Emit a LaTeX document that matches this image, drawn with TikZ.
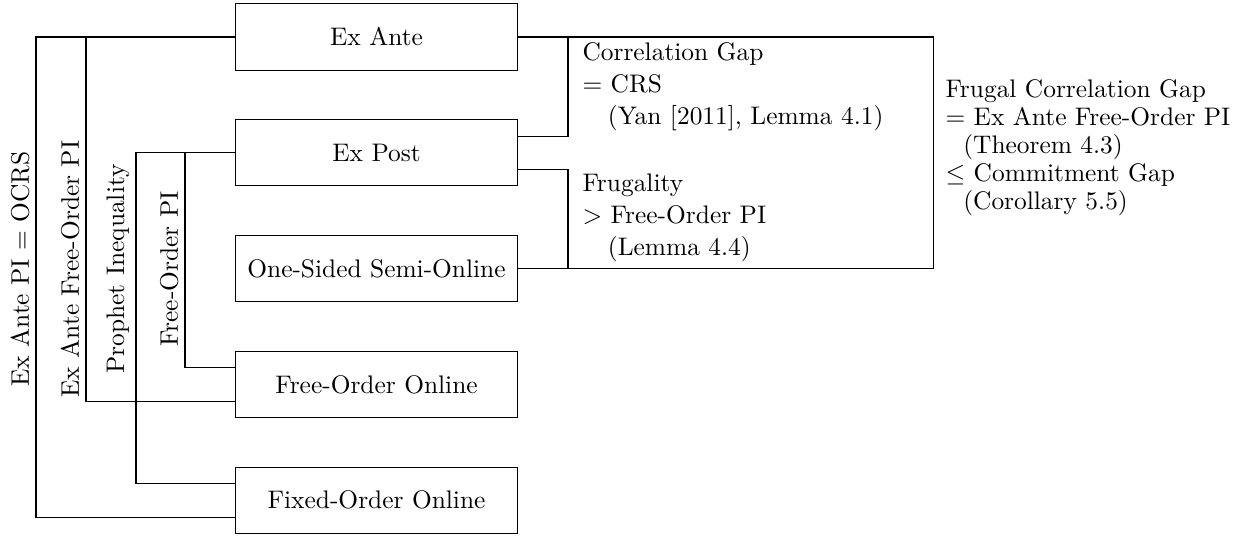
\documentclass[tikz,border=0pt]{standalone}
\usepackage{amsmath}
\usepackage{tikz}
\usetikzlibrary{positioning}
\begin{document}
\begin{tikzpicture}[x=0.3937pt, y=0.3937pt, main/.style = {draw, minimum width=111.4pt, minimum height=26pt}, side/.style = {rotate=90, anchor=south, inner sep=2.4pt}, note/.style = {align=left, anchor=north west, inner sep=0pt}, node distance=19.2pt]
\useasboundingbox (0,0) rectangle (1247,-537);
\node[main] (1) at (376.5,-37) {Ex Ante};
\node[main] (2) [below=of 1] {Ex Post};
\node[main] (3) [below=of 2] {One-Sided Semi-Online};
\node[main] (4) [below=of 3] {Free-Order Online};
\node[main] (5) [below=of 4] {Fixed-Order Online};
\coordinate (a) at (36,-269);
\coordinate (b) at (86,-269);
\coordinate (c) at (136,-269);
\coordinate (d) at (185,-269);
\coordinate (e) at (568,-269);
\coordinate (f) at (933,-269);
\draw (1.west) -| (a) |- ([yshift=-6.6pt]5.west);
\draw (1.west) -| (b) |- ([yshift=-6.6pt]4.west);
\draw (2.west) -| (c) |- ([yshift=6.6pt]5.west);
\draw (2.west) -| (d) |- ([yshift=6.6pt]4.west);
\draw (1.east) -| (f |- 3.east) -- (3.east);
\draw ([yshift=6.6pt]2.east) -| (e |- 1.east);
\draw ([yshift=-6.6pt]2.east) -| (e |- 3.east);
\node[side] (ocrs) at (a) {Ex Ante PI $=$ OCRS};
\node[side] (eafo) at (b) {Ex Ante Free-Order PI};
\node[side] (pi) at (c) {Prophet Inequality};
\node[side] (fopi) at (d) {Free-Order PI};
\node[note] (cg) at (582,-42.4) {Correlation Gap\\[0.6pt] $=$ CRS\\[0.6pt] \hspace*{10pt}(Yan [2011], Lemma 4.1)};
\node[note] (fr) at (582,-173.4) {Frugality\\[0.6pt] $>$ Free-Order PI\\[0.6pt] \hspace*{10pt}(Lemma 4.4)};
\node[note] (fcg) at (945,-79.1) {Frugal Correlation Gap\\[-1pt] $=$ Ex Ante Free-Order PI\\[-1pt] \hspace*{7pt}(Theorem 4.3)\\[-1pt] $\leq$ Commitment Gap\\[-1pt] \hspace*{7pt}(Corollary 5.5)};
\end{tikzpicture}
\end{document}
